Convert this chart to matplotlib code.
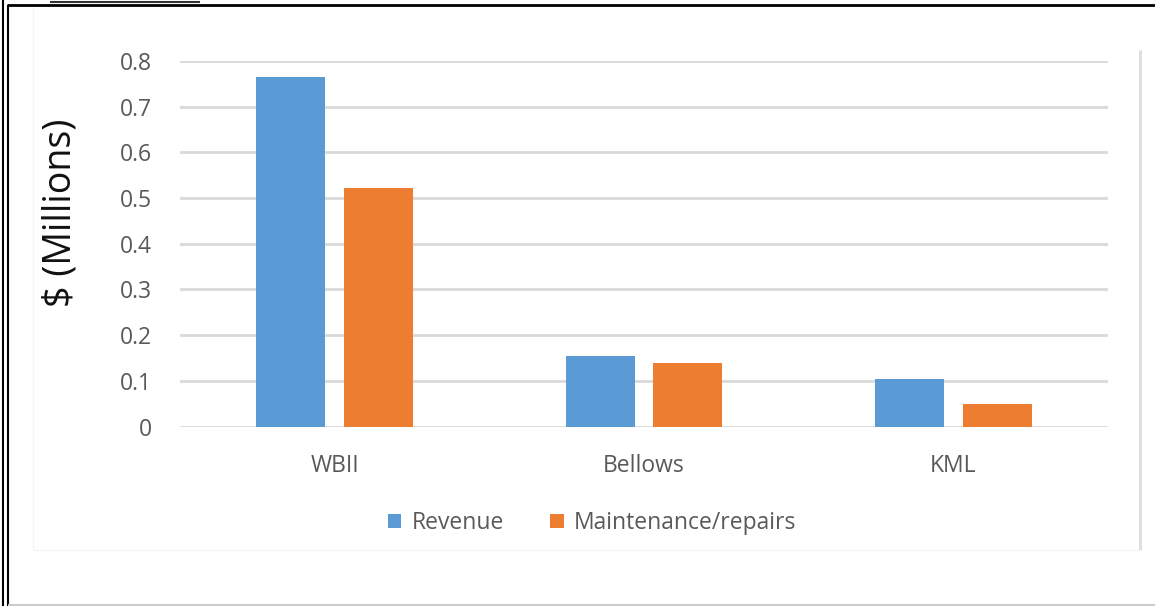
import matplotlib.pyplot as plt
from matplotlib.lines import Line2D
import numpy as np

plt.rcParams['font.family'] = ['Open Sans', 'DejaVu Sans']

sites = ['WBII', 'Bellows', 'KML']
revenue = [0.766, 0.155, 0.103]
repairs = [0.522, 0.139, 0.049]
y_ticks = [0, 0.1, 0.2, 0.3, 0.4, 0.5, 0.6, 0.7, 0.8]
y_tick_labels = ['0', '0.1', '0.2', '0.3', '0.4', '0.5', '0.6', '0.7', '0.8']

W, H = 1155, 606
fig = plt.figure(figsize=(W / 100, H / 100), dpi=100)
ax = fig.add_axes([180 / W, 1 - 426.5 / H, 928 / W, 365.5 / H])

x = np.arange(len(sites))
width = 0.223
offset = 0.142
ax.bar(x - offset, revenue, width, color='#5B9BD5', label='Revenue', zorder=3)
ax.bar(x + offset, repairs, width, color='#ED7D31', label='Maintenance/repairs', zorder=3)

ax.set_xlim(-0.5, len(sites) - 0.5)
ax.set_ylim(0, 0.8)
ax.set_xticks(x)
ax.set_xticklabels(sites, fontsize=16.5, color='#595959')
ax.set_yticks(y_ticks)
ax.set_yticklabels(y_tick_labels, fontsize=16.5, color='#595959')
ax.tick_params(axis='both', length=0)
ax.tick_params(axis='x', pad=20)
ax.tick_params(axis='y', pad=20)
ax.yaxis.grid(True, color='#d9d9d9', linewidth=2, zorder=0)
for s in ax.spines.values():
    s.set_visible(False)
fig.text(61 / W, 1 - 213 / H, '$ (Millions)', fontsize=27, color='#111111',
         rotation=90, ha='center', va='center')

ax.legend(loc='center', bbox_to_anchor=(592 / W, 1 - 523 / H),
          bbox_transform=fig.transFigure, ncol=2, frameon=False,
          fontsize=16.5, labelcolor='#595959', handlelength=0.6,
          handleheight=0.6, handletextpad=0.45, columnspacing=2.0)

# page border and the faint chart-area edges
def fline(xs, ys, color, lw):
    fig.add_artist(Line2D([v / W for v in xs], [1 - v / H for v in ys],
                          color=color, linewidth=lw, solid_capstyle='butt'))

fline([2.5, 2.5], [0, H], 'black', 1.5)
fline([7.5, 7.5], [5, H], 'black', 1.5)
fline([7, W], [5, 5], 'black', 2)
fline([50, 200], [1.5, 1.5], '#333333', 1.5)
fline([8, W], [604.5, 604.5], '#cccccc', 1.5)
fline([1140, 1140], [50, 550], '#dddddd', 2)
fline([33, 33], [8, 550], '#f4f4f4', 1)
fline([33, 1140], [550, 550], '#f4f4f4', 1)

fig.savefig('out.png', dpi=100)
